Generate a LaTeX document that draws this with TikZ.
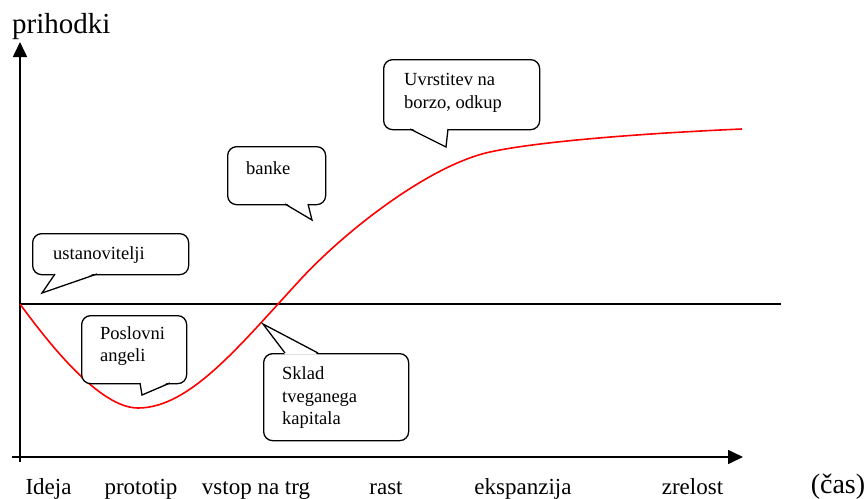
\documentclass[tikz,border=0pt]{standalone}
\usepackage{fontspec}
\setmainfont{Liberation Serif}
\usetikzlibrary{arrows.meta,calc}
\begin{document}
\begin{tikzpicture}[x=1pt,y=-1pt,
  axis/.style={line width=1.6pt},
  bubble/.style={draw, line width=1.3pt, rounded corners=9pt, fill=white, inner sep=0pt, anchor=north west},
  btext/.style={anchor=west, align=left, inner sep=0pt, font=\fontsize{18.5}{22.5}\selectfont},
  ptr/.style={line width=1.3pt, line join=miter},
  lab/.style={anchor=base, inner sep=0pt, font=\fontsize{23}{26}\selectfont},
  curve/.style={red, line width=1.6pt}
]
\useasboundingbox (0,0) rectangle (867,498);

% axes
\coordinate (ybot) at (20,462);
\coordinate (ytop) at (20,42);
\coordinate (xl) at (12,457);
\coordinate (xr) at (743,457);
\coordinate (hl) at (20,304);
\coordinate (hr) at (781,304);
\draw[axis, -{Triangle[width=14pt,length=15pt]}] (ybot) -- (ytop);
\draw[axis, -{Triangle[width=14pt,length=15pt]}] (xl) -- (xr);
\draw[line width=1.3pt] (hl) -- (hr);

\node[anchor=base west, inner sep=0pt, font=\fontsize{29}{32}\selectfont] (ylab) at (12,33) {prihodki};

% labels
\node[lab] (l1) at (48.5,494) {Ideja};
\node[lab] (l2) at (141,494) {prototip};
\node[lab] (l3) at (256,494) {vstop na trg};
\node[lab] (l4) at (386,494) {rast};
\node[lab] (l5) at (523,494) {ekspanzija};
\node[lab] (l6) at (692.5,494) {zrelost};
\node[anchor=base, inner sep=0pt, font=\fontsize{28}{30}\selectfont] (l7) at (838,493) {(čas)};

% curve
\coordinate (c0) at (20,304);
\coordinate (c1) at (138,408);
\coordinate (c2) at (300,280);
\coordinate (c3) at (490,152);
\coordinate (c4) at (742,129);
\draw[curve] (c0) .. controls (50,345) and (100,408) .. (c1)
                  .. controls (190,408) and (240,345) .. (c2)
                  .. controls (346,230) and (430,165) .. (c3)
                  .. controls (540,141) and (650,133) .. (c4);

% bubble 1: ustanovitelji
\node[bubble, minimum width=156pt, minimum height=41pt] (b1) at (32,233) {};
\coordinate (p1a) at (55,274); \coordinate (p1t) at (42,293); \coordinate (p1b) at (97,274);
\fill[white] ($(p1a)+(0,-1.5)$) -- (p1t) -- ($(p1b)+(0,-1.5)$) -- cycle;
\draw[ptr] (p1a) -- (p1t) -- (p1b);
\node[btext] (t1) at (53,255) {ustanovitelji};

% bubble 2: Poslovni angeli
\node[bubble, minimum width=105pt, minimum height=68pt] (b2) at (81,315) {};
\coordinate (p2a) at (140,383); \coordinate (p2t) at (142,395); \coordinate (p2b) at (170,383);
\fill[white] ($(p2a)+(0,-1.5)$) -- (p2t) -- ($(p2b)+(0,-1.5)$) -- cycle;
\draw[ptr] (p2a) -- (p2t) -- (p2b);
\node[btext] (t2) at (100,346) {Poslovni\\angeli};

% bubble 3: banke
\node[bubble, minimum width=98pt, minimum height=58pt] (b3) at (227,146) {};
\coordinate (p3a) at (285,204); \coordinate (p3t) at (312,220); \coordinate (p3b) at (308,204);
\fill[white] ($(p3a)+(0,-1.5)$) -- (p3t) -- ($(p3b)+(0,-1.5)$) -- cycle;
\draw[ptr] (p3a) -- (p3t) -- (p3b);
\node[btext] (t3) at (246,168) {banke};

% bubble 4: Uvrstitev na borzo, odkup
\node[bubble, minimum width=156pt, minimum height=70pt] (b4) at (383,59) {};
\coordinate (p4a) at (410,129); \coordinate (p4t) at (446,147); \coordinate (p4b) at (448,129);
\fill[white] ($(p4a)+(0,-1.5)$) -- (p4t) -- ($(p4b)+(0,-1.5)$) -- cycle;
\draw[ptr] (p4a) -- (p4t) -- (p4b);
\node[btext] (t4) at (404,93) {Uvrstitev na\\borzo, odkup};

% bubble 5: Sklad tveganega kapitala
\node[bubble, minimum width=145pt, minimum height=87pt] (b5) at (263,353) {};
\coordinate (p5a) at (318,353); \coordinate (p5t) at (263,324); \coordinate (p5b) at (285,353);
\fill[white] ($(p5a)+(0,1.5)$) -- (p5t) -- ($(p5b)+(0,1.5)$) -- cycle;
\draw[ptr] (p5a) -- (p5t) -- (p5b);
\node[btext] (t5) at (282,398) {Sklad\\tveganega\\kapitala};
\end{tikzpicture}
\end{document}
